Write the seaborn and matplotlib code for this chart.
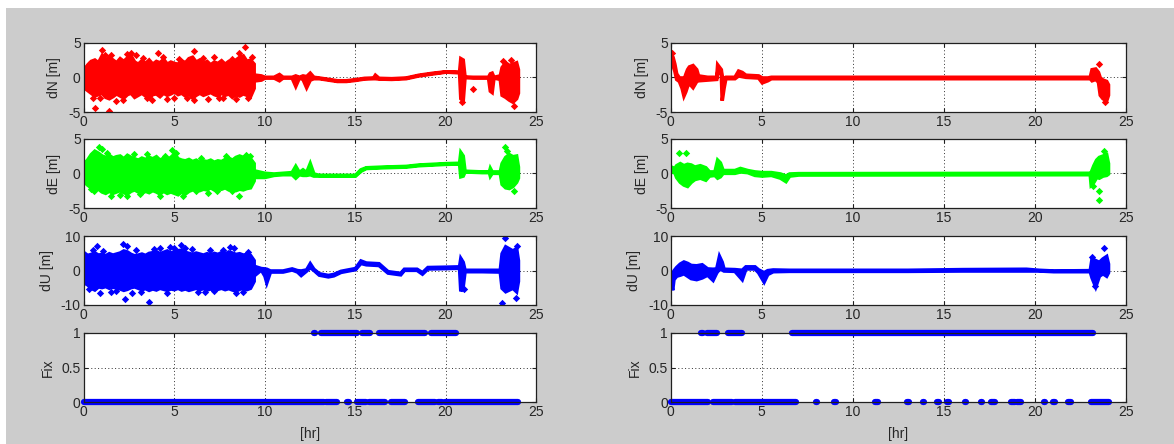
import matplotlib
matplotlib.use("Agg")
import matplotlib.pyplot as plt
import seaborn as sns
from matplotlib.patches import Rectangle

# ---------------------------------------------------------------------------
# Position errors (metres) against time of day (hours) for two processing runs.
# Noisy stretches are stored as lower/upper envelopes of the point cloud,
# isolated points as separate outlier lists.
# ---------------------------------------------------------------------------

# sampling hours of the float-solution stretch of the left run
blob_t = [0.0, 0.2, 0.4, 0.6, 0.8, 1.0, 1.2, 1.4, 1.6, 1.8, 2.0, 2.2, 2.4, 2.6,
          2.8, 3.0, 3.2, 3.4, 3.6, 3.8, 4.0, 4.2, 4.4, 4.6, 4.8, 5.0, 5.2, 5.4,
          5.6, 5.8, 6.0, 6.2, 6.4, 6.6, 6.8, 7.0, 7.2, 7.4, 7.6, 7.8, 8.0, 8.2,
          8.4, 8.6, 8.8, 9.0, 9.2, 9.4]

# ---- left run, dN ----
dn_l_hi = [1.3, 1.8, 2.4, 2.6, 2.2, 3.2, 2.5, 3.0, 2.6, 2.2, 2.8, 2.4, 2.9, 3.2,
           2.3, 2.0, 2.5, 2.1, 2.6, 2.0, 2.4, 2.2, 2.7, 2.0, 2.3, 2.1, 2.0, 2.5,
           2.2, 2.8, 3.0, 2.3, 2.6, 2.1, 2.4, 1.9, 2.3, 2.1, 2.5, 2.0, 2.4, 2.2,
           2.6, 3.0, 3.2, 2.4, 2.6, 2.0]
dn_l_lo = [-1.4, -1.8, -2.2, -2.6, -2.4, -2.2, -2.8, -3.0, -2.7, -2.3, -2.6, -2.9,
           -2.4, -2.2, -2.8, -2.5, -2.2, -2.6, -2.9, -2.4, -2.3, -2.7, -2.2, -2.5,
           -2.3, -2.0, -2.4, -2.2, -2.6, -2.3, -2.9, -2.5, -2.2, -2.5, -2.3, -2.1,
           -2.4, -2.6, -2.2, -2.5, -2.3, -2.8, -2.4, -2.6, -2.3, -2.5, -2.7, -1.5]
dn_l_tail_t = [9.5, 9.8, 10.0, 10.5, 10.8, 11.0, 11.5, 11.7, 11.9, 12.1, 12.3, 12.5,
               12.7, 13.0, 13.5, 14.0, 14.5, 15.0, 15.5, 16.0, 16.1, 16.3, 17.0,
               17.8, 18.5, 19.3, 20.0, 20.75, 20.82, 20.95, 21.05, 21.5, 22.0,
               22.35, 22.45, 22.55, 22.65, 23.0, 23.1, 23.3, 23.5, 23.7, 23.9, 24.0]
dn_l_tail_lo = [-0.4, -0.3, 0.0, 0.0, -0.4, 0.0, 0.0, -1.2, 0.0, -0.2, -1.4, -0.3,
                -0.1, -0.1, -0.3, -0.5, -0.5, -0.35, -0.15, -0.1, -0.1, -0.15, -0.2,
                -0.1, 0.3, 0.6, 0.85, 0.75, -3.0, -3.3, 0.05, 0.0, 0.0,
                0.0, -1.9, -2.1, 0.0, -0.2, -2.5, -2.8, -3.2, -3.5, -3.0, -2.2]
dn_l_tail_hi = [0.4, 0.3, 0.1, 0.1, 0.5, 0.1, 0.1, 0.3, 0.1, 0.3, 0.2, 0.7,
                0.1, 0.0, -0.2, -0.4, -0.4, -0.25, -0.05, 0.0, 0.4, -0.05, -0.1,
                0.0, 0.4, 0.7, 0.9, 0.85, 2.8, 2.6, 0.15, 0.1, 0.1,
                0.1, 0.6, 0.7, 0.1, 0.3, 1.5, 2.2, 1.8, 2.0, 2.2, 1.2]
dn_l_out_t = [0.65, 1.0, 1.4, 1.5, 2.6, 2.9, 3.8, 4.1, 6.1, 6.1, 6.9, 8.9, 8.6,
              7.7, 5.0, 2.2, 0.9, 4.6, 21.5, 23.8, 23.2, 23.6, 20.9,
              0.3, 0.5, 1.2, 1.8, 2.4, 3.3, 3.5, 4.4, 5.3, 5.7, 6.6, 7.2, 7.5,
              8.2, 8.4, 9.1, 9.3]
dn_l_out_v = [-4.4, 4.0, -4.9, 3.3, 3.5, 3.2, -3.2, 3.5, 3.8, -3.3, -3.1, 4.4, 3.5,
              -3.0, -3.0, -3.3, -3.0, -3.1, -1.7, -4.2, 2.4, 2.5, -3.6,
              2.0, -2.9, 3.3, -3.4, 3.4, 2.8, -3.0, 3.0, 2.7, -3.0, 2.8, 2.9, -3.0,
              2.7, -3.1, -3.0, 2.9]

# ---- left run, dE ----
de_l_hi = [1.5, 2.0, 2.8, 3.3, 3.0, 2.6, 2.4, 2.7, 2.3, 2.5, 2.6, 2.2, 2.7, 2.4,
           2.2, 2.0, 2.3, 2.1, 2.4, 2.2, 2.5, 2.0, 2.3, 2.1, 2.4, 2.9, 2.2, 2.0,
           1.9, 2.1, 1.8, 2.0, 1.7, 1.9, 1.8, 2.0, 1.7, 1.9, 1.8, 2.1, 2.3, 2.0,
           2.4, 2.6, 2.4, 2.7, 2.2, 1.5]
de_l_lo = [-1.1, -1.6, -2.0, -2.3, -2.2, -2.6, -2.8, -2.5, -2.8, -2.6, -2.4, -2.7,
           -2.9, -2.5, -2.3, -2.6, -2.8, -2.5, -2.7, -2.4, -2.6, -2.9, -2.5, -2.8,
           -2.6, -2.8, -3.0, -2.6, -2.9, -2.5, -2.3, -2.1, -2.4, -2.2, -2.3, -2.0,
           -2.3, -2.1, -2.2, -2.0, -2.3, -2.1, -2.4, -2.2, -2.3, -2.1, -2.0, -1.0]
de_l_tail_t = [9.5, 10.0, 10.5, 11.0, 11.5, 11.7, 11.9, 12.1, 12.3, 12.5, 12.7, 13.0,
               14.0, 15.0, 15.3, 15.6, 16.5, 17.8, 18.5, 20.0, 20.75, 20.82, 20.95,
               21.05, 22.0, 22.4, 22.45, 22.55, 23.0, 23.1, 23.3, 23.5, 23.7, 23.9,
               24.0]
de_l_tail_lo = [-0.5, -0.5, -0.2, -0.1, -0.1, -0.6, -0.1, -0.2, -0.2, -0.1, -0.3,
                -0.3, -0.3, -0.3, 0.4, 0.8, 0.9, 1.0, 1.2, 1.4, 1.45, -0.4, -0.3,
                0.3, 0.2, 0.2, -0.3, 0.1, 0.1, -1.5, -2.0, -2.1, -1.8, -1.2, -0.6]
de_l_tail_hi = [0.4, 0.1, 0.0, 0.1, 0.2, 1.1, 0.2, 0.6, 0.2, 1.5, 0.0, -0.2,
                -0.2, -0.2, 0.6, 0.9, 1.0, 1.1, 1.3, 1.5, 1.55, 3.1, 2.6,
                0.4, 0.3, 0.3, 0.8, 0.3, 0.3, 1.5, 2.4, 2.8, 2.5, 2.6, 1.0]
de_l_out_t = [0.85, 1.0, 1.5, 2.4, 4.9, 5.1, 5.5, 8.6, 9.0, 3.5, 6.9, 23.3, 23.4,
              23.8, 0.4, 1.3, 2.0, 2.8, 3.1, 4.2, 4.5, 6.2, 6.5, 7.4, 7.9, 8.2,
              9.2, 0.6]
de_l_out_v = [3.8, 3.5, -3.3, -3.3, 3.4, 3.0, -3.2, -3.3, 2.7, 2.8, -2.8, 3.9, 3.3,
              -2.5, -2.3, 2.9, -3.1, 2.8, -2.9, -3.2, 2.6, -2.6, 2.3, -2.6, 2.5,
              -2.5, 2.5, -2.6]

# ---- left run, dU ----
du_l_hi = [5.3, 4.5, 4.8, 5.2, 4.6, 4.8, 4.4, 5.0, 4.6, 4.9, 5.2, 5.8, 5.5, 4.8,
           4.4, 4.6, 4.9, 4.5, 5.1, 5.3, 5.6, 5.0, 5.4, 5.8, 5.2, 5.6, 5.9, 6.0,
           5.4, 5.1, 4.8, 5.2, 4.9, 4.6, 5.0, 4.7, 5.1, 4.8, 5.3, 4.9, 5.5, 5.2,
           4.8, 5.0, 4.6, 4.8, 4.5, 3.0]
du_l_lo = [-3.4, -4.0, -5.0, -5.5, -4.6, -4.8, -4.5, -5.0, -4.7, -4.9, -5.2, -5.6,
           -5.3, -4.8, -4.6, -5.0, -5.4, -5.1, -5.6, -5.2, -5.5, -5.0, -5.3, -5.6,
           -5.2, -5.4, -5.0, -5.5, -5.2, -5.6, -5.3, -5.0, -5.4, -5.1, -5.5, -5.2,
           -5.6, -5.3, -5.0, -5.4, -5.1, -5.5, -5.8, -5.3, -5.0, -5.4, -5.0, -3.0]
du_l_tail_t = [9.5, 9.8, 10.0, 10.1, 10.3, 11.0, 11.5, 11.8, 12.0, 12.3, 12.5, 12.7,
               13.0, 13.5, 13.8, 14.2, 15.0, 15.3, 15.6, 16.3, 16.8, 17.5, 17.7,
               18.4, 18.7, 19.0, 20.0, 20.75, 20.82, 20.95, 21.05, 22.0, 23.0,
               23.1, 23.3, 23.5, 23.7, 23.9, 24.0]
du_l_tail_lo = [-1.0, 0.3, -1.5, -3.4, -0.3, -0.3, 0.3, -0.3, -1.3, 0.0, 1.0, 0.2,
                -1.2, -1.7, -1.4, -0.4, 0.4, 2.2, 1.8, 1.6, -0.6, -1.1, 0.2,
                0.2, -0.9, 0.6, 0.7, 0.8, -5.9, -4.5, -0.2, -0.2, -0.3,
                -5.0, -6.0, -5.5, -5.0, -6.0, -3.0]
du_l_tail_hi = [1.2, 0.7, 0.6, 0.5, 0.0, 0.0, 0.6, 0.1, 0.0, 0.3, 2.1, 0.5,
                -0.8, -1.3, -1.0, -0.1, 0.7, 2.9, 2.3, 2.1, -0.2, -0.7, 0.5,
                0.5, -0.5, 1.0, 1.1, 1.2, 3.6, 2.5, 0.2, 0.2, 0.2,
                5.0, 7.0, 6.4, 5.8, 6.5, 3.0]
du_l_out_t = [0.75, 0.3, 0.9, 2.2, 2.4, 2.3, 3.6, 5.4, 5.6, 8.1, 8.3, 8.4, 6.3,
              4.2, 1.5, 7.2, 23.3, 23.1, 23.9, 23.95, 21.0,
              0.5, 1.1, 1.8, 2.9, 3.2, 3.9, 4.6, 5.0, 6.0, 6.7, 7.0, 7.7, 8.8,
              9.1, 4.8, 2.7]
du_l_out_v = [7.2, -5.5, -6.5, 7.8, 7.2, -8.2, -9.0, 7.5, 6.5, 6.7, 6.5, -6.5, -6.2,
              6.5, -6.3, -6.0, 9.3, -9.4, -8.0, 7.2, -5.5,
              5.8, 5.6, -6.0, 5.9, -6.2, 6.2, -6.4, 6.6, 6.2, -6.1, 5.9, 6.0, -6.3,
              5.4, 6.8, -6.4]

# ---- left run, ambiguity fix flag (runs of hours) ----
fix_l_one = [(12.75, 12.75), (13.1, 15.1), (15.4, 15.85), (16.3, 18.85),
             (19.2, 20.6)]
fix_l_zero = [(0.0, 13.3), (13.4, 14.0), (14.55, 14.65), (15.1, 15.6),
              (15.8, 16.65), (17.0, 17.75), (18.5, 19.4), (19.6, 19.8),
              (19.95, 24.0)]

# ---- right run, dN ----
dn_r_t = [0.0, 0.1, 0.2, 0.3, 0.45, 0.6, 0.7, 0.8, 0.9, 1.0, 1.2, 1.4, 1.5, 2.0,
          2.5, 2.55, 2.75, 2.8, 2.9, 3.0, 3.5, 3.7, 3.9, 4.1, 4.8, 5.0, 5.3, 5.5,
          23.0, 23.1, 23.3, 23.45, 23.55, 23.7, 23.9, 24.0]
dn_r_lo = [2.3, 1.8, 1.0, -0.2, -0.5, -1.5, -2.6, -2.0, -1.2, -0.8, -1.4, -0.5,
           -0.4, -0.3, -0.2, 0.8, 0.6, -3.3, -1.5, -0.1, -0.1, 0.3, 0.2, 0.1, 0.0,
           -0.7, -0.4, -0.1, -0.1, -0.4, -0.2, -0.6, -2.5, -3.0, -3.3, -2.5]
dn_r_hi = [3.3, 3.0, 2.0, 0.6, 0.0, 0.0, -0.3, 0.5, 1.2, 1.6, 1.8, 1.2, 0.3, 0.1,
           0.1, 1.9, 1.2, 0.1, 0.0, 0.1, 0.1, 1.0, 0.8, 0.4, 0.3, 0.0, 0.0, 0.1,
           0.1, 1.2, 1.3, 0.8, 0.0, -0.3, -0.5, -1.0]
dn_r_out_t = [23.5, 23.85, 0.05]
dn_r_out_v = [1.9, -3.6, 3.5]

# ---- right run, dE ----
de_r_t = [0.0, 0.2, 0.3, 0.5, 0.7, 0.9, 1.1, 1.3, 1.6, 1.9, 2.1, 2.4, 2.55, 2.7,
          2.85, 3.5, 3.8, 4.2, 4.6, 5.0, 5.5, 6.0, 6.3, 6.5, 7.0, 23.0, 23.05,
          23.2, 23.35, 23.5, 23.7, 23.9, 24.0]
de_r_lo = [0.3, 0.2, -0.5, -1.2, -1.6, -1.8, -1.2, -0.8, -0.6, -0.9, -0.3, -0.2,
           -0.6, -0.4, 0.1, 0.1, 0.3, 0.2, -0.2, -0.3, -0.2, -0.6, -1.1, -0.3,
           -0.15, -0.1, -1.6, -1.2, -0.5, -0.6, -0.3, -0.2, 0.0]
de_r_hi = [1.0, 0.8, 1.2, 1.5, 1.2, 1.4, 1.3, 1.0, 1.2, 0.9, 0.3, 0.3, 2.0, 1.6,
           0.5, 0.5, 0.8, 0.5, 0.3, 0.2, 0.2, 0.0, -0.3, 0.0, 0.05, 0.1, 0.2,
           1.2, 2.0, 2.4, 2.6, 2.8, 1.5]
de_r_out_t = [0.45, 0.85, 23.5, 23.5, 23.8, 23.2]
de_r_out_v = [2.9, 2.9, -2.5, -3.8, 3.2, -1.8]

# ---- right run, dU ----
du_r_t = [0.0, 0.08, 0.15, 0.3, 0.5, 0.7, 0.9, 1.1, 1.4, 1.7, 2.0, 2.3, 2.5, 2.65,
          2.8, 2.9, 3.5, 3.9, 4.1, 4.6, 4.8, 5.1, 5.3, 5.6, 6.5, 13.0, 16.0, 19.5,
          20.2, 21.0, 23.0, 23.1, 23.3, 23.5, 23.7, 23.9, 24.0]
du_r_lo = [-3.0, -5.6, -2.5, -1.5, -1.2, -0.8, -1.5, -2.2, -2.5, -2.0, -1.2, -2.7,
           -0.5, 0.5, 0.3, 0.0, -0.1, -2.5, 0.6, 0.6, -0.5, -3.2, -1.0, -0.2,
           -0.1, -0.1, 0.0, 0.0, 0.0, -0.2, -0.2, -2.0, -4.6, -1.5, -0.8, -1.5,
           -0.5]
du_r_hi = [-2.0, -2.5, 0.0, 1.0, 2.0, 2.6, 2.2, 1.6, 1.5, 1.8, 0.6, 0.5, 0.6, 4.2,
           2.5, 0.5, 0.4, 0.2, 1.2, 1.2, 0.3, -0.5, 0.1, 0.3, 0.2, 0.2, 0.4, 0.5,
           0.2, 0.0, 0.1, 3.5, 3.0, 2.5, 3.5, 4.2, 2.0]
du_r_out_t = [23.8, 23.3, 23.15]
du_r_out_v = [6.4, -4.6, 4.0]

# ---- right run, ambiguity fix flag ----
fix_r_one = [(1.72, 1.72), (1.98, 2.55), (3.17, 3.9), (6.65, 23.2)]
fix_r_zero = [(0.0, 2.07), (2.3, 3.35), (3.53, 6.9), (8.02, 8.02), (8.97, 9.08),
              (11.22, 11.38), (12.97, 13.08), (13.85, 13.85), (14.67, 14.67),
              (15.15, 15.27), (16.2, 16.2), (17.05, 17.05), (17.6, 17.82),
              (18.65, 18.9), (19.0, 19.2), (20.5, 20.5), (21.0, 21.1),
              (21.8, 21.95), (23.05, 24.05)]

# tick labels
x_ticks = [0, 5, 10, 15, 20, 25]
pos_ticks_5 = [-5, 0, 5]
pos_ticks_10 = [-10, 0, 10]
fix_ticks = [0, 0.5, 1]
fix_tick_labels = ["0", "0.5", "1"]

RED, GREEN, BLUE = "#ff0000", "#00ff00", "#0000ff"
FIG_BG = "#cccccc"
TXT = "#262626"

sns.set_theme(style="ticks")
plt.rcParams["font.family"] = ["Liberation Sans", "DejaVu Sans"]
plt.rcParams["axes.unicode_minus"] = False

W, H = 1174, 444
fig = plt.figure(figsize=(W / 100, H / 100), dpi=100, facecolor="white")
fig.patches.append(Rectangle((6 / W, 0), 1 - 6 / W, 1 - 8 / H,
                             transform=fig.transFigure, facecolor=FIG_BG,
                             edgecolor="none", zorder=-10))

row_tops = [43, 139, 236, 333]
row_h = 69
cols = [(83.5, 452.5), (670.7, 455.5)]


def make_axes(col, row):
    x0, w = cols[col]
    top = row_tops[row]
    return fig.add_axes([x0 / W, 1 - (top + row_h) / H, w / W, row_h / H])


def style_axes(ax, yticks, ylabels, ylabel, ylim, show_xlabel=False):
    ax.set_facecolor("white")
    ax.set_xlim(0, 25)
    ax.set_ylim(*ylim)
    ax.set_xticks(x_ticks)
    ax.set_xticklabels([str(v) for v in x_ticks])
    ax.set_yticks(yticks)
    ax.set_yticklabels(ylabels)
    ax.tick_params(direction="in", length=3, width=0.8, colors="#202020",
                   labelcolor=TXT, labelsize=10, pad=2,
                   top=True, right=True)
    for sp in ax.spines.values():
        sp.set_visible(True)
        sp.set_color("#202020")
        sp.set_linewidth(0.9)
        sp.set_zorder(5)
    ax.grid(True, color="#303030", linestyle=(0, (1, 2.5)), linewidth=0.7)
    ax.set_axisbelow(True)
    ax.set_ylabel(ylabel, fontsize=10, color=TXT, labelpad=5)
    if show_xlabel:
        ax.set_xlabel("[hr]", fontsize=10, color=TXT, labelpad=6)
    else:
        ax.set_xlabel("")


def band(ax, t, lo, hi, color):
    ax.fill_between(t, lo, hi, facecolor=color, edgecolor=color, linewidth=2.6,
                    joinstyle="miter", zorder=2)


def points(ax, t, v, color):
    sns.scatterplot(x=t, y=v, ax=ax, color=color, marker="D", s=14,
                    linewidth=0, zorder=3, legend=False)


def fix_runs(ax, runs, level):
    for a, b in runs:
        if b - a < 0.06:
            a, b = a - 0.03, b + 0.03
        ax.hlines(level, a, b, colors=BLUE, linewidth=4.5, capstyle="round",
                  clip_on=False, zorder=3)


# ---------------- left column ----------------
ax = make_axes(0, 0)
band(ax, blob_t, dn_l_lo, dn_l_hi, RED)
band(ax, dn_l_tail_t, dn_l_tail_lo, dn_l_tail_hi, RED)
points(ax, dn_l_out_t, dn_l_out_v, RED)
style_axes(ax, pos_ticks_5, ["-5", "0", "5"], "dN [m]", (-5, 5))

ax = make_axes(0, 1)
band(ax, blob_t, de_l_lo, de_l_hi, GREEN)
band(ax, de_l_tail_t, de_l_tail_lo, de_l_tail_hi, GREEN)
points(ax, de_l_out_t, de_l_out_v, GREEN)
style_axes(ax, pos_ticks_5, ["-5", "0", "5"], "dE [m]", (-5, 5))

ax = make_axes(0, 2)
band(ax, blob_t, du_l_lo, du_l_hi, BLUE)
band(ax, du_l_tail_t, du_l_tail_lo, du_l_tail_hi, BLUE)
points(ax, du_l_out_t, du_l_out_v, BLUE)
style_axes(ax, pos_ticks_10, ["-10", "0", "10"], "dU [m]", (-10, 10))

ax = make_axes(0, 3)
fix_runs(ax, fix_l_one, 1)
fix_runs(ax, fix_l_zero, 0)
style_axes(ax, fix_ticks, fix_tick_labels, "Fix", (0, 1), show_xlabel=True)

# ---------------- right column ----------------
ax = make_axes(1, 0)
band(ax, dn_r_t, dn_r_lo, dn_r_hi, RED)
points(ax, dn_r_out_t, dn_r_out_v, RED)
style_axes(ax, pos_ticks_5, ["-5", "0", "5"], "dN [m]", (-5, 5))

ax = make_axes(1, 1)
band(ax, de_r_t, de_r_lo, de_r_hi, GREEN)
points(ax, de_r_out_t, de_r_out_v, GREEN)
style_axes(ax, pos_ticks_5, ["-5", "0", "5"], "dE [m]", (-5, 5))

ax = make_axes(1, 2)
band(ax, du_r_t, du_r_lo, du_r_hi, BLUE)
points(ax, du_r_out_t, du_r_out_v, BLUE)
style_axes(ax, pos_ticks_10, ["-10", "0", "10"], "dU [m]", (-10, 10))

ax = make_axes(1, 3)
fix_runs(ax, fix_r_one, 1)
fix_runs(ax, fix_r_zero, 0)
style_axes(ax, fix_ticks, fix_tick_labels, "Fix", (0, 1), show_xlabel=True)

fig.savefig("out.png", dpi=100, facecolor=fig.get_facecolor())
